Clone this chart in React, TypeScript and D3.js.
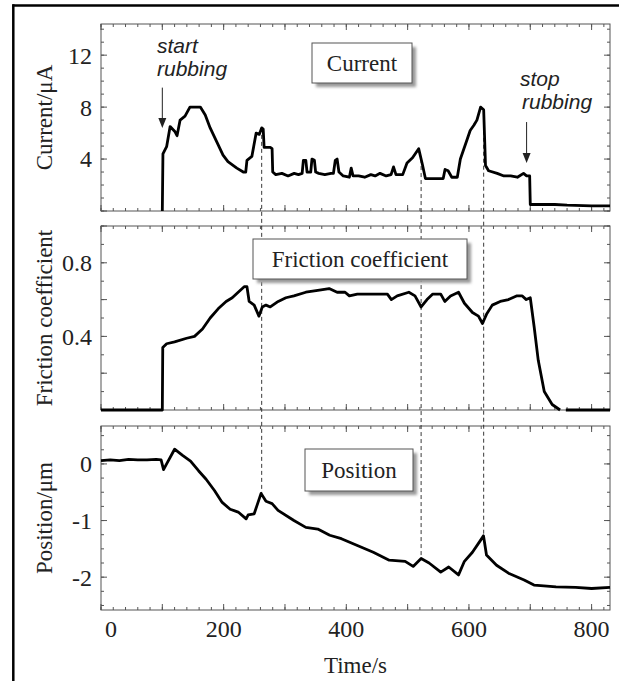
import React from "react";
import * as d3 from "d3";

// ---- data (time in s) ----
const currentData: [number, number][] = [
  [100, 0], [101, 4.4], [107, 4.95], [112.7, 6.5], [120.8, 6.1], [124, 5.8], [129, 7.0], [137, 7.3],
  [145, 8.0], [156, 8.0], [162, 8.0], [170, 7.4], [178, 6.4], [189, 5.3], [199, 4.3], [207, 3.8],
  [221.5, 3.3], [232, 3.0], [236, 3.0], [238, 3.9], [246, 4.2], [253, 6.0], [258, 5.9], [262, 6.4],
  [264.5, 6.3], [266, 4.9], [276, 4.9], [279, 4.8], [280, 3.0], [285, 2.8], [295, 2.9], [305, 2.7],
  [315, 2.9], [322, 2.8], [328, 2.9], [330, 3.9], [334, 3.9], [336, 3.0], [342, 3.0], [344, 4.0],
  [348, 3.9], [350, 3.0], [355, 2.9], [365, 2.8], [375, 2.9], [379, 2.9], [382, 3.9], [385, 4.0],
  [388, 3.0], [395, 2.7], [405, 2.6], [408, 3.3], [411, 2.7], [420, 2.7], [430, 2.6], [440, 2.8],
  [447, 2.7], [455, 2.9], [465, 2.7], [473, 2.8], [477, 3.4], [481, 2.8], [492, 2.8], [499, 3.7],
  [508, 4.1], [518, 4.8], [524, 3.6], [529, 2.5], [540, 2.5], [558, 2.5], [561, 3.2], [566, 3.1],
  [572, 2.6], [581, 2.6], [586, 4.0], [597, 5.5], [602, 6.2], [608, 6.6], [613, 7.0], [619, 8.0],
  [624, 7.8], [627, 3.5], [632, 3.1], [646, 2.9], [657, 2.7], [668, 2.7], [679, 2.6], [689, 2.9],
  [694, 2.7], [699, 2.7], [700, 0.5], [740, 0.5], [760, 0.45], [800, 0.4], [830, 0.4],
];

const frictionData: [number, number | null][] = [
  [0, 0], [100, 0], [100.7, 0.34], [107, 0.36], [120, 0.37], [139.6, 0.39], [152.5, 0.4],
  [165.5, 0.44], [178, 0.5], [191, 0.55], [204, 0.59], [214, 0.61], [223.7, 0.64], [233.5, 0.67],
  [238, 0.67], [241.6, 0.59], [249.8, 0.57], [257.5, 0.51], [263, 0.56], [269, 0.57], [276, 0.56],
  [289, 0.59], [301.5, 0.61], [314.6, 0.62], [334, 0.64], [353.5, 0.65], [372, 0.66], [385, 0.64],
  [398, 0.64], [405, 0.62], [418, 0.63], [444, 0.63], [467, 0.63], [473.5, 0.6], [483, 0.62],
  [502, 0.64], [512, 0.62], [522, 0.56], [531.6, 0.6], [541, 0.63], [554, 0.63], [560.6, 0.59],
  [570, 0.62], [583, 0.64], [592.6, 0.58], [605.7, 0.53], [615.5, 0.51], [622, 0.47], [628.6, 0.52],
  [638, 0.57], [651, 0.59], [664.5, 0.6], [677.5, 0.62], [687, 0.62], [693.5, 0.6], [700, 0.61],
  [706.4, 0.45], [713, 0.27], [722.8, 0.1], [735.7, 0.03], [748.6, 0], [753, null], [758, 0], [830, 0],
];

const positionData: [number, number][] = [
  [0, 0.06], [15, 0.07], [30, 0.06], [45, 0.08], [60, 0.07], [75, 0.07], [90, 0.08], [98, 0.07],
  [102, -0.1], [107, 0.0], [120, 0.26], [133, 0.15], [146, 0.05], [159, -0.12], [171.4, -0.27],
  [185, -0.47], [197.6, -0.68], [210.6, -0.8], [223.7, -0.85], [236.7, -0.97], [240, -0.9],
  [249.8, -0.88], [261, -0.52], [269, -0.66], [279, -0.7], [288.7, -0.82], [314.6, -1.0],
  [334, -1.12], [353.5, -1.15], [373, -1.26], [392, -1.32], [418, -1.44], [444, -1.56], [470, -1.7],
  [496, -1.72], [509, -1.81], [522, -1.67], [535, -1.75], [554, -1.91], [567, -1.82], [583, -1.96],
  [592.6, -1.72], [605.7, -1.56], [618.8, -1.35], [623.7, -1.27], [628.6, -1.61], [645, -1.79],
  [664.5, -1.93], [690, -2.05], [706, -2.14], [717, -2.15], [742, -2.17], [774, -2.18], [800, -2.2],
  [830, -2.18],
];

const markerTimes = [262, 522, 624];
const xTickLabels = [0, 200, 400, 600, 800];
const currentTickLabels = [4, 8, 12];
const frictionTickLabels = [0.4, 0.8];
const positionTickLabels = [0, -1, -2];
const startArrow = { t: 100, from: 9.5, to: 6.4 };
const stopArrow = { t: 694, from: 6.85, to: 3.7 };

// ---- layout ----
const W = 619;
const H = 681;
const L = 101;
const R = 610;
const SERIF = "'Liberation Serif', 'Times New Roman', serif";
const SANS = "'Liberation Sans', Arial, sans-serif";
const AX = "#555";
const TXT = "#222";

const x = d3.scaleLinear().domain([0, 830]).range([L, R]);
const y1 = d3.scaleLinear().domain([0, 14.4]).range([211, 24]);
const y2 = d3.scaleLinear().domain([0, 1.0]).range([410, 226]);
const y3 = d3.scaleLinear().domain([-2.58, 0.67]).range([610, 426]);

function interp(data: [number, number | null][], t: number): number {
  for (let i = 0; i < data.length - 1; i++) {
    const a = data[i], b = data[i + 1];
    if (a[1] == null || b[1] == null) continue;
    if (t >= a[0] && t <= b[0]) {
      const f = (t - a[0]) / (b[0] - a[0] || 1);
      return (a[1] as number) + f * ((b[1] as number) - (a[1] as number));
    }
  }
  return 0;
}

function Panel({ y, minor, major, labels, fmt, title }: any) {
  const [y0, yTop] = [y.range()[0], y.range()[1]];
  const xMinor = d3.range(0, 831, 20);
  const xMajor = d3.range(0, 831, 100);
  const d = y.domain();
  const yMinor = d3.range(Math.ceil(d[0] / minor) * minor, d[1] + 1e-9, minor);
  const yMajor = d3.range(Math.ceil(d[0] / major) * major, d[1] + 1e-9, major);
  return (
    <g>
      <rect x={L} y={yTop} width={R - L} height={y0 - yTop} fill="none" stroke={AX} strokeWidth={1} />
      {xMinor.map((t: number) => (
        <g key={"xm" + t}>
          <line x1={x(t)} x2={x(t)} y1={y0} y2={y0 - 3} stroke={AX} />
          <line x1={x(t)} x2={x(t)} y1={yTop} y2={yTop + 3} stroke={AX} />
        </g>
      ))}
      {xMajor.map((t: number) => (
        <g key={"xM" + t}>
          <line x1={x(t)} x2={x(t)} y1={y0} y2={y0 - 6} stroke={AX} />
          <line x1={x(t)} x2={x(t)} y1={yTop} y2={yTop + 6} stroke={AX} />
        </g>
      ))}
      {yMinor.map((v: number, i: number) => (
        <g key={"ym" + i}>
          <line x1={L} x2={L + 3} y1={y(v)} y2={y(v)} stroke={AX} />
          <line x1={R} x2={R - 3} y1={y(v)} y2={y(v)} stroke={AX} />
        </g>
      ))}
      {yMajor.map((v: number, i: number) => (
        <g key={"yM" + i}>
          <line x1={L} x2={L + 6} y1={y(v)} y2={y(v)} stroke={AX} />
          <line x1={R} x2={R - 6} y1={y(v)} y2={y(v)} stroke={AX} />
        </g>
      ))}
      {labels.map((v: number) => (
        <text key={"l" + v} x={92} y={y(v)} dy="0.35em" textAnchor="end" fontFamily={SERIF} fontSize={24} fill={TXT}>
          {fmt(v)}
        </text>
      ))}
      <text
        transform={`translate(44,${(y0 + yTop) / 2}) rotate(-90)`}
        textAnchor="middle"
        dy="0.35em"
        fontFamily={SERIF}
        fontSize={23}
        fill={TXT}
      >
        {title}
      </text>
    </g>
  );
}

function Box({ cx, cy, w, h, label }: any) {
  return (
    <g>
      <rect x={cx - w / 2 + 4} y={cy - h / 2 + 4} width={w} height={h} fill="#999" filter="url(#blur)" />
      <rect x={cx - w / 2} y={cy - h / 2} width={w} height={h} fill="#fff" stroke="#555" strokeWidth={1} />
      <text x={cx} y={cy} dy="0.35em" textAnchor="middle" fontFamily={SERIF} fontSize={23} fill={TXT}>
        {label}
      </text>
    </g>
  );
}

function Arrow({ t, from, to }: any) {
  const xx = x(t);
  const a = y1(from);
  const b = y1(to);
  return (
    <g>
      <line x1={xx} x2={xx} y1={a} y2={b - 8} stroke="#222" strokeWidth={1} />
      <path d={`M${xx - 4},${b - 10} L${xx + 4},${b - 10} L${xx},${b} Z`} fill="#222" />
    </g>
  );
}

export default function App() {
  const line1 = d3.line<[number, number]>().x((d) => x(d[0])).y((d) => y1(d[1]));
  const line2 = d3
    .line<[number, number | null]>()
    .defined((d) => d[1] != null)
    .x((d) => x(d[0]))
    .y((d) => y2(d[1] as number));
  const line3 = d3.line<[number, number]>().x((d) => x(d[0])).y((d) => y3(d[1]));

  return (
    <svg width={W} height={H} style={{ position: "absolute", left: 0, top: 0, background: "#fff" }}>
      <defs>
        <filter id="blur" x="-20%" y="-20%" width="140%" height="140%">
          <feGaussianBlur stdDeviation="1.5" />
        </filter>
      </defs>
      <rect x={0} y={0} width={W} height={H} fill="#fff" />
      <line x1={12.5} x2={W} y1={5.5} y2={5.5} stroke="#000" strokeWidth={2.5} />
      <line x1={13.3} x2={13.3} y1={4.3} y2={H} stroke="#000" strokeWidth={2.5} />

      <Panel y={y1} minor={1} major={4} labels={currentTickLabels} fmt={(v: number) => String(v)} title="Current/μA" />
      <Panel y={y2} minor={0.1} major={0.2} labels={frictionTickLabels} fmt={(v: number) => v.toFixed(1)} title="Friction coefficient" />
      <Panel y={y3} minor={0.25} major={1} labels={positionTickLabels} fmt={(v: number) => String(v)} title="Position/μm" />

      {markerTimes.map((t) => (
        <line
          key={t}
          x1={x(t)}
          x2={x(t)}
          y1={y1(interp(currentData, t))}
          y2={y3(interp(positionData, t))}
          stroke="#222"
          strokeWidth={0.9}
          strokeDasharray="4,3"
        />
      ))}

      <path d={line1(currentData) || ""} fill="none" stroke="#000" strokeWidth={2.8} strokeLinejoin="round" />
      <path d={line2(frictionData) || ""} fill="none" stroke="#000" strokeWidth={2.8} strokeLinejoin="round" />
      <path d={line3(positionData) || ""} fill="none" stroke="#000" strokeWidth={2.8} strokeLinejoin="round" />

      {xTickLabels.map((t) => (
        <text
          key={t}
          x={x(t)}
          dx={t === 0 ? 4 : 0}
          y={637}
          textAnchor={t === 0 ? "start" : "middle"}
          fontFamily={SERIF}
          fontSize={24}
          fill={TXT}
        >
          {t}
        </text>
      ))}
      <text x={(L + R) / 2} y={673} textAnchor="middle" fontFamily={SERIF} fontSize={23} fill={TXT}>
        Time/s
      </text>

      <Box cx={362} cy={63} w={100} h={40} label="Current" />
      <Box cx={360} cy={259} w={214} h={40} label="Friction coefficient" />
      <Box cx={359} cy={470} w={108} h={42} label="Position" />

      <text x={157} y={53} fontFamily={SANS} fontStyle="italic" fontSize={21} fill={TXT}>start</text>
      <text x={157} y={76} fontFamily={SANS} fontStyle="italic" fontSize={21} fill={TXT}>rubbing</text>
      <text x={520} y={86} fontFamily={SANS} fontStyle="italic" fontSize={21} fill={TXT}>stop</text>
      <text x={522} y={109} fontFamily={SANS} fontStyle="italic" fontSize={21} fill={TXT}>rubbing</text>
      <Arrow {...startArrow} />
      <Arrow {...stopArrow} />
    </svg>
  );
}
